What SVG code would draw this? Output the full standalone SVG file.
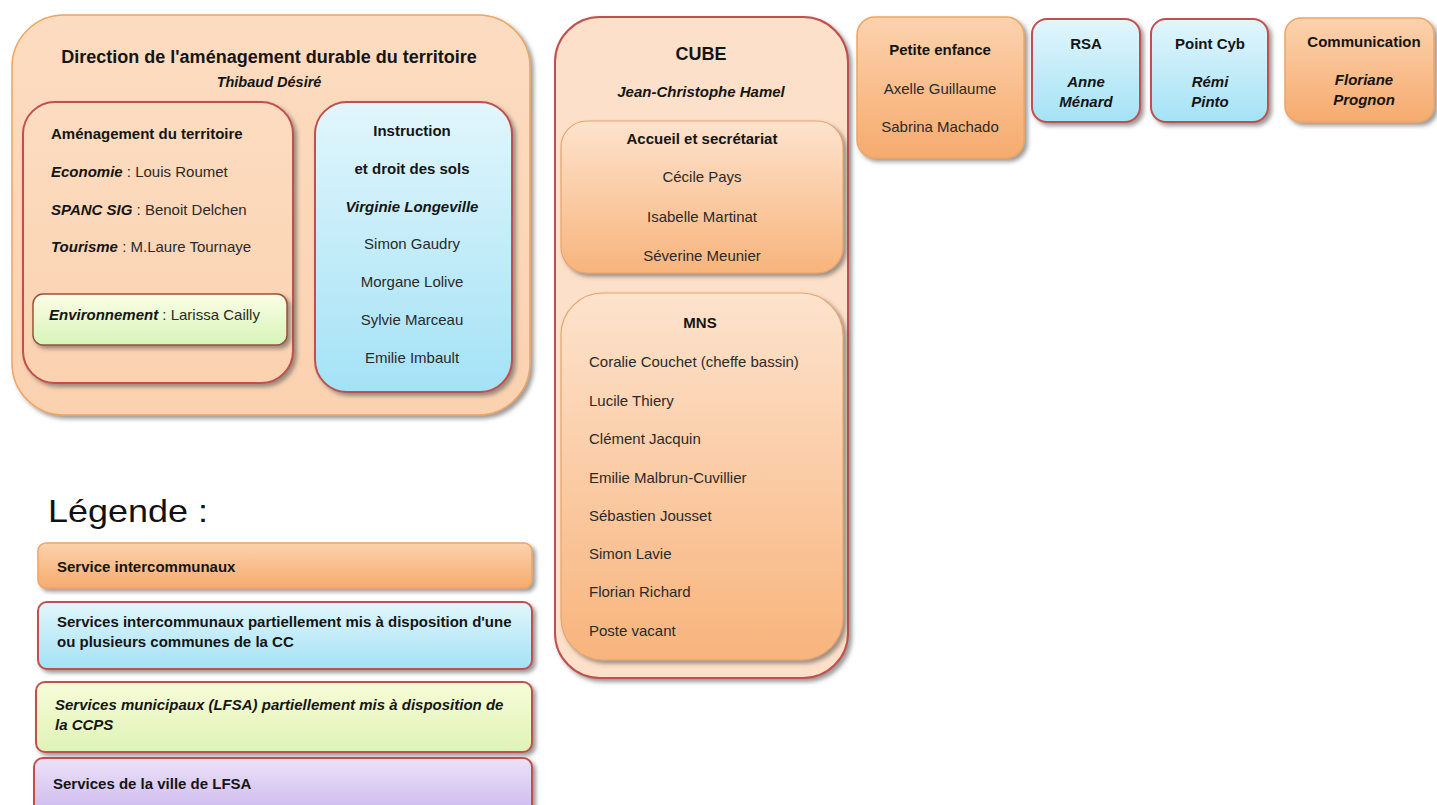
<svg xmlns="http://www.w3.org/2000/svg" width="1437" height="805" viewBox="0 0 1437 805">
<defs>
<linearGradient id="gPeach" x1="0" y1="0" x2="0" y2="1"><stop offset="0" stop-color="#fcdcc0"/><stop offset="1" stop-color="#fbd2b0"/></linearGradient>
<linearGradient id="gOrange" x1="0" y1="0" x2="0" y2="1"><stop offset="0" stop-color="#fde3cd"/><stop offset="1" stop-color="#f8b47c"/></linearGradient>
<linearGradient id="gOrangeS" x1="0" y1="0" x2="0" y2="1"><stop offset="0" stop-color="#fcd2ae"/><stop offset="1" stop-color="#f6ab6e"/></linearGradient>
<linearGradient id="gBlue" x1="0" y1="0" x2="0" y2="1"><stop offset="0" stop-color="#e2f6fc"/><stop offset="1" stop-color="#a4e2f6"/></linearGradient>
<linearGradient id="gGreen" x1="0" y1="0" x2="0" y2="1"><stop offset="0" stop-color="#fbfde6"/><stop offset="1" stop-color="#d6f5b8"/></linearGradient>
<linearGradient id="gYellow" x1="0" y1="0" x2="0" y2="1"><stop offset="0" stop-color="#f8fcd8"/><stop offset="1" stop-color="#dff3b6"/></linearGradient>
<linearGradient id="gPurple" x1="0" y1="0" x2="0" y2="1"><stop offset="0" stop-color="#ece2f8"/><stop offset="1" stop-color="#cbb6ee"/></linearGradient>
<filter id="sh" x="-10%" y="-10%" width="125%" height="125%"><feDropShadow dx="3" dy="3" stdDeviation="2" flood-color="#555" flood-opacity="0.6"/></filter>
</defs>
<style>
text{font-family:"Liberation Sans",Arial,sans-serif;font-size:15px;fill:#2a2a2a}
.b{font-weight:bold;fill:#151515}
.bi{font-weight:bold;font-style:italic;fill:#151515}
.c{text-anchor:middle}
.t{font-size:18px}
.red{stroke:#c0504d;stroke-width:2}
.org{stroke:#eda564;stroke-width:1.5}
</style>

<g id="direction">
<rect x="12" y="15" width="518" height="400" rx="52" fill="url(#gPeach)" class="org" filter="url(#sh)"/>
<text class="b c t" x="269" y="63">Direction de l'aménagement durable du territoire</text>
<text class="bi c" x="269" y="87" style="font-size:14.5px">Thibaud Désiré</text>
</g>

<g id="amenagement">
<rect x="23" y="102" width="270" height="281" rx="32" fill="url(#gPeach)" class="red" filter="url(#sh)"/>
<text class="b" x="51" y="139">Aménagement du territoire</text>
<text x="51" y="177"><tspan class="bi">Economie</tspan> : Louis Roumet</text>
<text x="51" y="215"><tspan class="bi">SPANC SIG</tspan> : Benoit Delchen</text>
<text x="51" y="252"><tspan class="bi">Tourisme</tspan> : M.Laure Tournaye</text>
</g>

<g id="environnement">
<rect x="33" y="294" width="254" height="51" rx="10" fill="url(#gGreen)" stroke="#a0503a" stroke-width="1.5" filter="url(#sh)"/>
<text x="49" y="320"><tspan class="bi">Environnement</tspan> : Larissa Cailly</text>
</g>

<g id="instruction">
<rect x="315" y="102" width="197" height="290" rx="32" fill="url(#gBlue)" class="red" filter="url(#sh)"/>
<text class="b c" x="412" y="136">Instruction</text>
<text class="b c" x="412" y="174">et droit des sols</text>
<text class="bi c" x="412" y="212">Virginie Longeville</text>
<text class="c" x="412" y="249">Simon Gaudry</text>
<text class="c" x="412" y="287">Morgane Lolive</text>
<text class="c" x="412" y="325">Sylvie Marceau</text>
<text class="c" x="412" y="363">Emilie Imbault</text>
</g>

<g id="cube">
<rect x="555" y="17" width="293" height="661" rx="45" fill="#fde0c9" class="red" filter="url(#sh)"/>
<text class="b c t" x="701" y="60">CUBE</text>
<text class="bi c" x="701" y="97">Jean-Christophe Hamel</text>
</g>

<g id="accueil">
<rect x="561" y="121" width="282" height="152" rx="26" fill="url(#gOrange)" stroke="#e6a470" stroke-width="1.2" filter="url(#sh)"/>
<text class="b c" x="702" y="144">Accueil et secrétariat</text>
<text class="c" x="702" y="182">Cécile Pays</text>
<text class="c" x="702" y="222">Isabelle Martinat</text>
<text class="c" x="702" y="261">Séverine Meunier</text>
</g>

<g id="mns">
<rect x="561" y="293" width="282" height="367" rx="42" fill="url(#gOrange)" stroke="#e6a470" stroke-width="1.2" filter="url(#sh)"/>
<text class="b c" x="700" y="328">MNS</text>
<text x="589" y="367">Coralie Couchet (cheffe bassin)</text>
<text x="589" y="406">Lucile Thiery</text>
<text x="589" y="444">Clément Jacquin</text>
<text x="589" y="483">Emilie Malbrun-Cuvillier</text>
<text x="589" y="521">Sébastien Jousset</text>
<text x="589" y="559">Simon Lavie</text>
<text x="589" y="597">Florian Richard</text>
<text x="589" y="636">Poste vacant</text>
</g>

<g id="petite-enfance">
<rect x="857" y="17" width="167" height="141" rx="18" fill="url(#gOrangeS)" class="org" filter="url(#sh)"/>
<text class="b c" x="940" y="55">Petite enfance</text>
<text class="c" x="940" y="94">Axelle Guillaume</text>
<text class="c" x="940" y="132">Sabrina Machado</text>
</g>

<g id="rsa">
<rect x="1032" y="19" width="108" height="103" rx="15" fill="url(#gBlue)" class="red" filter="url(#sh)"/>
<text class="b c" x="1086" y="49">RSA</text>
<text class="bi c" x="1086" y="87">Anne</text>
<text class="bi c" x="1086" y="107">Ménard</text>
</g>

<g id="point-cyb">
<rect x="1151" y="19" width="117" height="103" rx="15" fill="url(#gBlue)" class="red" filter="url(#sh)"/>
<text class="b c" x="1210" y="49">Point Cyb</text>
<text class="bi c" x="1210" y="87">Rémi</text>
<text class="bi c" x="1210" y="107">Pinto</text>
</g>

<g id="communication">
<rect x="1285" y="18" width="149" height="104" rx="16" fill="url(#gOrangeS)" class="org" filter="url(#sh)"/>
<text class="b c" x="1364" y="47">Communication</text>
<text class="bi c" x="1364" y="85">Floriane</text>
<text class="bi c" x="1364" y="105">Prognon</text>
</g>

<g id="connectors"></g>

<g id="legende">
<text x="48" y="522" style="font-size:32px;fill:#111" textLength="160" lengthAdjust="spacingAndGlyphs">Légende :</text>
<rect x="38" y="543" width="494" height="45" rx="8" fill="url(#gOrangeS)" class="org" filter="url(#sh)"/>
<text class="b" x="57" y="572">Service intercommunaux</text>
<rect x="38" y="602" width="494" height="67" rx="9" fill="url(#gBlue)" class="red" filter="url(#sh)"/>
<text class="b" x="57" y="627">Services intercommunaux partiellement mis à disposition d'une</text>
<text class="b" x="57" y="647">ou plusieurs communes de la CC</text>
<rect x="36" y="682" width="496" height="70" rx="9" fill="url(#gYellow)" class="red" filter="url(#sh)"/>
<text class="bi" x="55" y="710">Services municipaux (LFSA) partiellement mis à disposition de</text>
<text class="bi" x="55" y="730">la CCPS</text>
<rect x="34" y="758" width="498" height="60" rx="9" fill="url(#gPurple)" class="red" filter="url(#sh)"/>
<text class="b" x="53" y="789">Services de la ville de LFSA</text>
</g>
</svg>
